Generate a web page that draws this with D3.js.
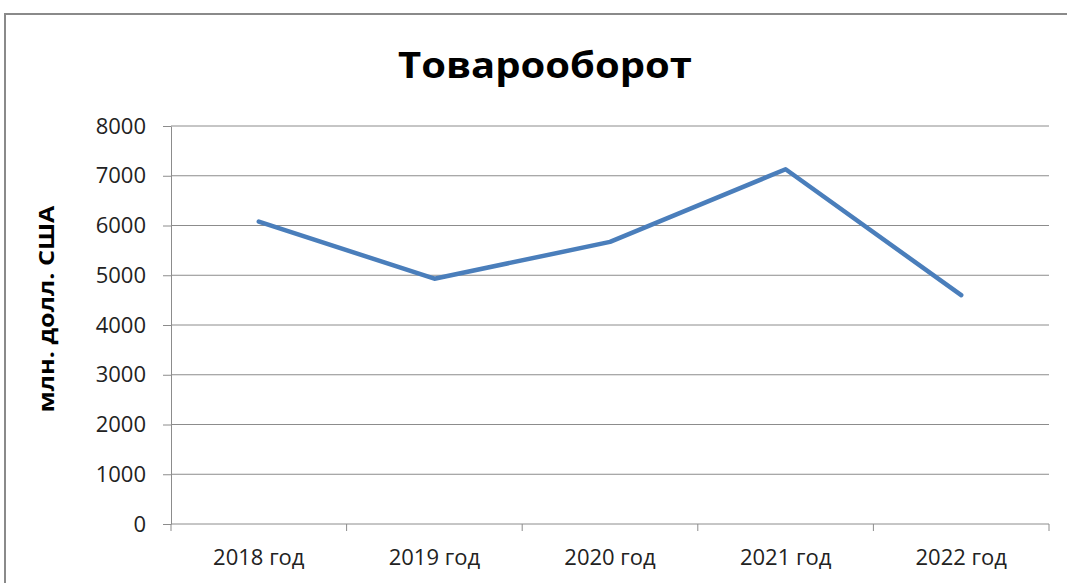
<!DOCTYPE html>
<html>
<head>
<meta charset="utf-8">
<script src="https://cdn.jsdelivr.net/npm/d3@7/dist/d3.min.js"></script>
<style>
  body { margin: 0; background: #fff; }
  .tick text { font-family: "Open Sans", "Noto Sans", sans-serif; }
</style>
</head>
<body>
<div id="chart"></div>
<script>
// chart data
const years = ["2018 год", "2019 год", "2020 год", "2021 год", "2022 год"];
const turnover = [6080, 4930, 5670, 7130, 4600];
const yTicks = [0, 1000, 2000, 3000, 4000, 5000, 6000, 7000, 8000];

const chartWidth = 1067;
const chartHeight = 583;
const margin = { top: 126, right: 18, bottom: 59, left: 171 };
const width = chartWidth - margin.left - margin.right;
const height = chartHeight - margin.top - margin.bottom;

const $svg = d3.select("#chart")
	.append("svg")
	.attr("width", chartWidth)
	.attr("height", chartHeight);

// outer frame
$svg.append("rect")
	.attr("x", 5)
	.attr("y", 14)
	.attr("width", 1100)
	.attr("height", 620)
	.attr("fill", "none")
	.attr("stroke", "#8a8a8a")
	.attr("stroke-width", 2);

// title
$svg.append("text")
	.attr("x", 545)
	.attr("y", 78)
	.attr("text-anchor", "middle")
	.attr("textLength", 294)
	.attr("lengthAdjust", "spacingAndGlyphs")
	.style("font-family", "'Open Sans', sans-serif")
	.style("font-weight", "bold")
	.style("font-size", "36px")
	.text("Товарооборот");

const $g = $svg.append("g")
	.attr("transform", "translate(" + margin.left + "," + margin.top + ")");

const xScale = d3.scaleBand()
	.domain(years)
	.range([0, width]);

const yScale = d3.scaleLinear()
	.domain([0, 8000])
	.range([height, 0]);

// horizontal gridlines
$g.append("g")
	.selectAll("line")
	.data(yTicks.filter(d => d > 0))
	.enter()
	.append("line")
	.attr("x1", 0)
	.attr("x2", width)
	.attr("y1", d => yScale(d))
	.attr("y2", d => yScale(d))
	.attr("stroke", "#8c8c8c")
	.attr("stroke-width", 1);

// y axis
const $yAxis = $g.append("g")
	.call(d3.axisLeft(yScale)
		.tickValues(yTicks)
		.tickFormat(d3.format("d"))
		.tickSize(8)
		.tickPadding(17)
		.tickSizeOuter(0));
$yAxis.select(".domain").attr("stroke", "#8c8c8c");
$yAxis.selectAll(".tick line").attr("stroke", "#8c8c8c");
$yAxis.selectAll(".tick text")
	.style("font-size", "22px")
	.attr("fill", "#222");

// x axis, ticks at band edges
const $xAxis = $g.append("g")
	.attr("transform", "translate(0," + height + ")");
$xAxis.append("line")
	.attr("x1", 0).attr("x2", width)
	.attr("stroke", "#8c8c8c");
$xAxis.selectAll(".edge")
	.data(years.concat(["end"]))
	.enter()
	.append("line")
	.attr("class", "edge")
	.attr("x1", (d, i) => i * xScale.bandwidth())
	.attr("x2", (d, i) => i * xScale.bandwidth())
	.attr("y1", 0)
	.attr("y2", 7)
	.attr("stroke", "#8c8c8c");
$xAxis.selectAll(".label")
	.data(years)
	.enter()
	.append("text")
	.attr("class", "label")
	.attr("x", d => xScale(d) + xScale.bandwidth() / 2)
	.attr("y", 41)
	.attr("text-anchor", "middle")
	.attr("fill", "#222")
	.style("font-family", "'Open Sans', sans-serif")
	.style("font-size", "22px")
	.text(d => d);

// y axis label
$svg.append("text")
	.attr("transform", "translate(54,309) rotate(-90)")
	.attr("text-anchor", "middle")
	.attr("textLength", 207)
	.attr("lengthAdjust", "spacingAndGlyphs")
	.style("font-family", "'Open Sans', sans-serif")
	.style("font-weight", "bold")
	.style("font-size", "22px")
	.text("млн. долл. США");

// line
const lineGenerator = d3.line()
	.x((d, i) => xScale(years[i]) + xScale.bandwidth() / 2)
	.y(d => yScale(d));

$g.append("path")
	.datum(turnover)
	.attr("fill", "none")
	.attr("stroke", "#4a7ebb")
	.attr("stroke-width", 4.5)
	.attr("stroke-linejoin", "round")
	.attr("stroke-linecap", "round")
	.attr("d", lineGenerator);
</script>
</body>
</html>
